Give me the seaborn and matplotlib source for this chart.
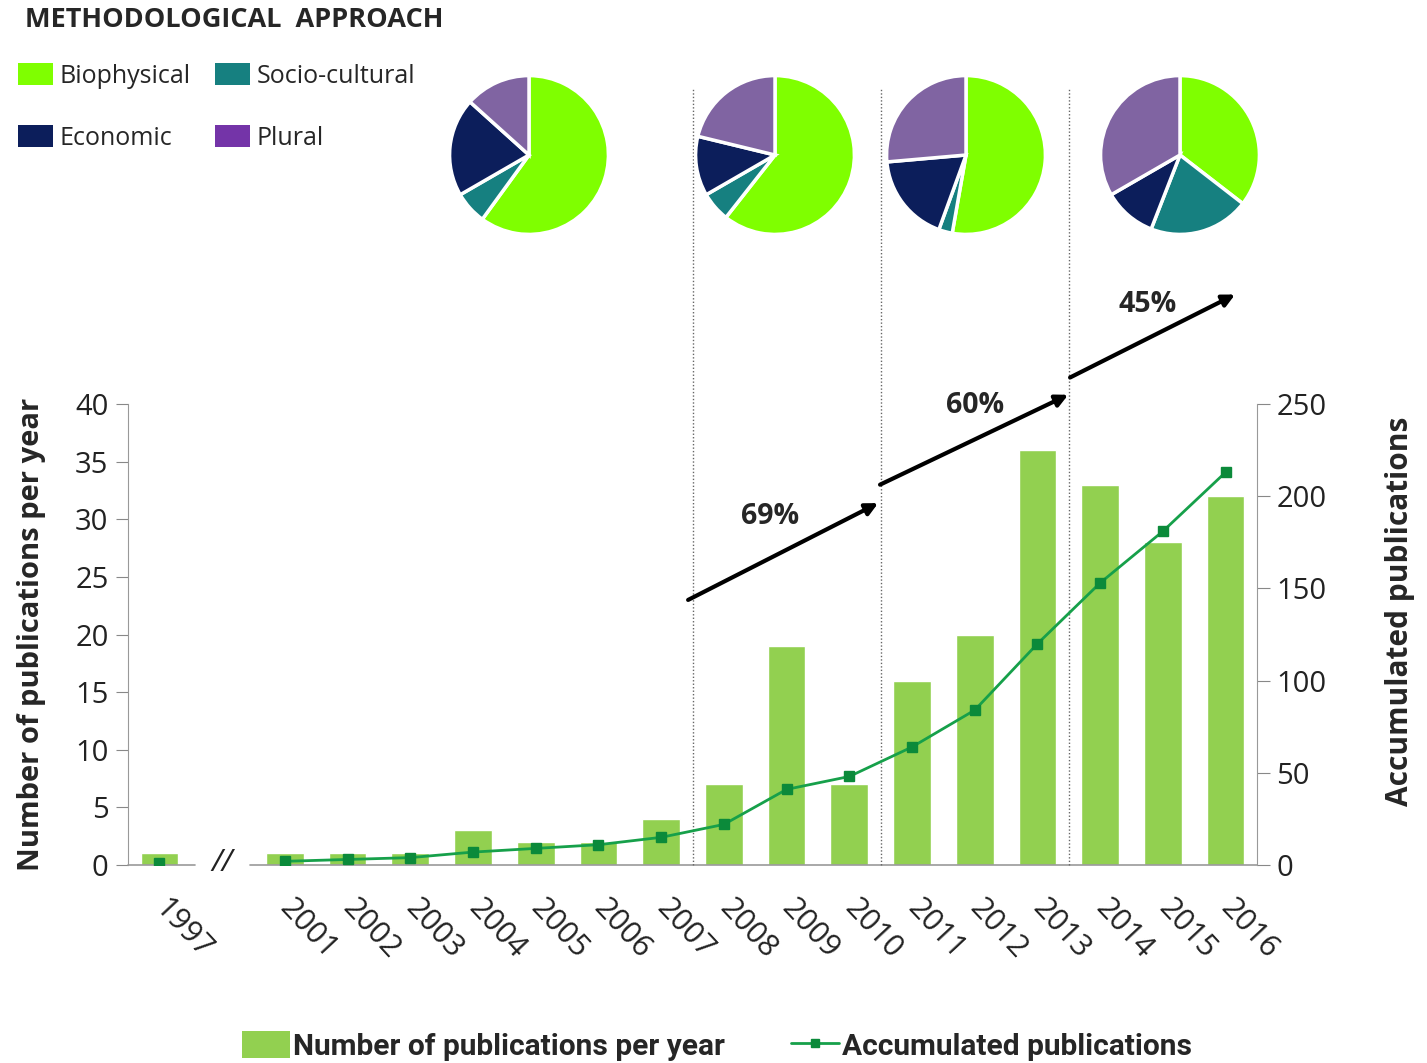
import numpy as np
import pandas as pd
import matplotlib
matplotlib.use("Agg")
import matplotlib.pyplot as plt
import seaborn as sns
from matplotlib.patches import Patch
from matplotlib.lines import Line2D

# Data
years = ["1997", "2001", "2002", "2003", "2004", "2005", "2006", "2007",
         "2008", "2009", "2010", "2011", "2012", "2013", "2014", "2015", "2016"]
pubs_per_year = [1, 1, 1, 1, 3, 2, 2, 4, 7, 19, 7, 16, 20, 36, 33, 28, 32]
accumulated = [1, 2, 3, 4, 7, 9, 11, 15, 22, 41, 48, 64, 84, 120, 153, 181, 213]

approaches = ["Biophysical", "Socio-cultural", "Economic", "Plural"]
pie_counts = [
    [9, 1, 3, 2],      # 1997-2007
    [20, 2, 4, 7],     # 2008-2010
    [38, 2, 13, 19],   # 2011-2013
    [33, 19, 10, 31],  # 2014-2016
]
growth_labels = ["69%", "60%", "45%"]

# Colours
BAR_GREEN = "#92d050"
LINE_GREEN = "#16a04a"
MARK_GREEN = "#0b8a3a"
PIE_COLORS = ["#7fff00", "#168080", "#0c1e5b", "#8064a2"]
LEGEND_COLORS = ["#7fff00", "#168080", "#0c1e5b", "#7434a8"]

sns.set_style("white")
plt.rcParams["font.family"] = ["Open Sans", "DejaVu Sans"]

W, H = 1427, 1063
fig = plt.figure(figsize=(W / 100, H / 100), dpi=100)

def px_box(x0, y0, w, h):
    return [x0 / W, 1 - (y0 + h) / H, w / W, h / H]

ax = fig.add_axes(px_box(128, 404, 1129, 461))

# category order with a blank slot for the axis break
order = ["1997", "gap"] + years[1:]
df = pd.DataFrame({"year": years, "pubs": pubs_per_year})
sns.barplot(data=df, x="year", y="pubs", order=order, color=BAR_GREEN,
            width=0.6, saturation=1, ax=ax)
pos = {y: order.index(y) for y in years}

ax.set_xlim(-0.5, len(order) - 0.5)
ax.set_ylim(0, 40)
ax.set_yticks(range(0, 41, 5))
ax.tick_params(axis="y", labelsize=21, length=9, color="#888888", left=True,
               pad=5, labelcolor="#222222")
ax.set_xticks([pos[y] for y in years])
ax.set_xticklabels(years, rotation=-47, ha="left", va="center",
                   rotation_mode="anchor", fontsize=22, color="#222222")
ax.tick_params(axis="x", length=0, pad=28)
ax.set_xlabel("")
ax.set_ylabel("Number of publications per year", fontsize=21,
              fontweight="bold")
ax.yaxis.set_label_coords(-0.073, 0.5)

for s in ["top", "right", "bottom"]:
    ax.spines[s].set_visible(False)
ax.spines["left"].set_color("#999999")

# broken baseline with "//"
ax.plot([-0.5, 0.57], [0, 0], color="#999999", lw=1.2, clip_on=False)
ax.plot([1.45, 17.5], [0, 0], color="#999999", lw=1.2, clip_on=False)
ax.text(1.0, 0.2, "//", ha="center", va="center", fontsize=22,
        color="#222222", style="italic")

# accumulated line on twin axis
ax2 = ax.twinx()
xs = [pos[y] for y in years]
ax2.plot(xs[:1], accumulated[:1], marker="s", ms=7, color=MARK_GREEN, lw=0)
ax2.plot(xs[1:], accumulated[1:], color=LINE_GREEN, lw=2, marker="s", ms=7,
         mfc=MARK_GREEN, mec=MARK_GREEN)
ax2.set_ylim(0, 250)
ax2.set_yticks(range(0, 251, 50))
ax2.tick_params(axis="y", labelsize=21, length=9, color="#888888", right=True,
                pad=5, labelcolor="#222222")
ax2.set_ylabel("Accumulated publications", fontsize=21.5, fontweight="bold",
               rotation=90)
ax2.yaxis.set_label_coords(1.1136, 0.55)
for s in ["top", "left", "bottom"]:
    ax2.spines[s].set_visible(False)
ax2.spines["right"].set_color("#999999")
ax2.grid(False)

# period separators (dotted) reaching up to the pies
for xv in [8.5, 11.5, 14.5]:
    ax.plot([xv, xv], [0, 67.4], ls=(0, (1, 1.5)), color="#666666", lw=1,
            clip_on=False)

# growth arrows
arrows = [((8.43, 23.0), (11.46, 31.4)),
          ((11.49, 33.0), (14.49, 40.8)),
          ((14.52, 42.3), (17.15, 49.5))]
label_pos = [(9.74, 30.2), (13.0, 39.9), (15.76, 48.6)]
for (start, end), lab, lp in zip(arrows, growth_labels, label_pos):
    ax.annotate("", xy=end, xytext=start, annotation_clip=False,
                arrowprops=dict(arrowstyle="-|>", color="black", lw=3,
                                mutation_scale=18, shrinkA=0, shrinkB=0))
    ax.text(lp[0], lp[1], lab, ha="center", va="center", fontsize=20.5,
            fontweight="bold", clip_on=False)

# pies
pie_centers = [529, 775, 966, 1180]
r = 81
for cx, counts in zip(pie_centers, pie_counts):
    pax = fig.add_axes(px_box(cx - r, 155 - r, 2 * r, 2 * r))
    pax.pie(counts, colors=PIE_COLORS, startangle=90, counterclock=False,
            radius=1.0, wedgeprops=dict(edgecolor="white", linewidth=2.5))
    pax.set_aspect("equal")
    pax.set_xlim(-1.02, 1.02)
    pax.set_ylim(-1.02, 1.02)
    pax.axis("off")

# methodological approach legend
fig.text(25 / W, 1 - 20 / H, "METHODOLOGICAL  APPROACH", fontsize=19.5,
         fontweight="bold", ha="left", va="center")
handles = [Patch(facecolor=c, edgecolor="none") for c in LEGEND_COLORS]
# column-first fill: Biophysical/Economic, Socio-cultural/Plural
idx = [0, 2, 1, 3]
fig.legend([handles[i] for i in idx], [approaches[i] for i in idx], ncol=2,
           loc="upper left", bbox_to_anchor=(18 / W, 1 - 63 / H), frameon=False,
           fontsize=18, handlelength=1.4, handleheight=1.0,
           handletextpad=0.25, labelspacing=1.45, columnspacing=1.0,
           borderaxespad=0, borderpad=0)

# bottom legend
bottom_handles = [Patch(facecolor=BAR_GREEN, edgecolor="none"),
                  Line2D([], [], color=LINE_GREEN, lw=2, marker="s", ms=6,
                         mfc=MARK_GREEN, mec=MARK_GREEN)]
fig.legend(bottom_handles, ["Number of publications per year",
                            "Accumulated publications"],
           ncol=2, loc="center", bbox_to_anchor=(717 / W, 1 - 1046 / H),
           frameon=False, handlelength=1.6, handleheight=1.0,
           handletextpad=0.1, columnspacing=2.2, borderpad=0,
           prop=dict(family=["Roboto", "DejaVu Sans"],
                     weight="bold", size=21.5))

fig.savefig("out.png", dpi=100)
